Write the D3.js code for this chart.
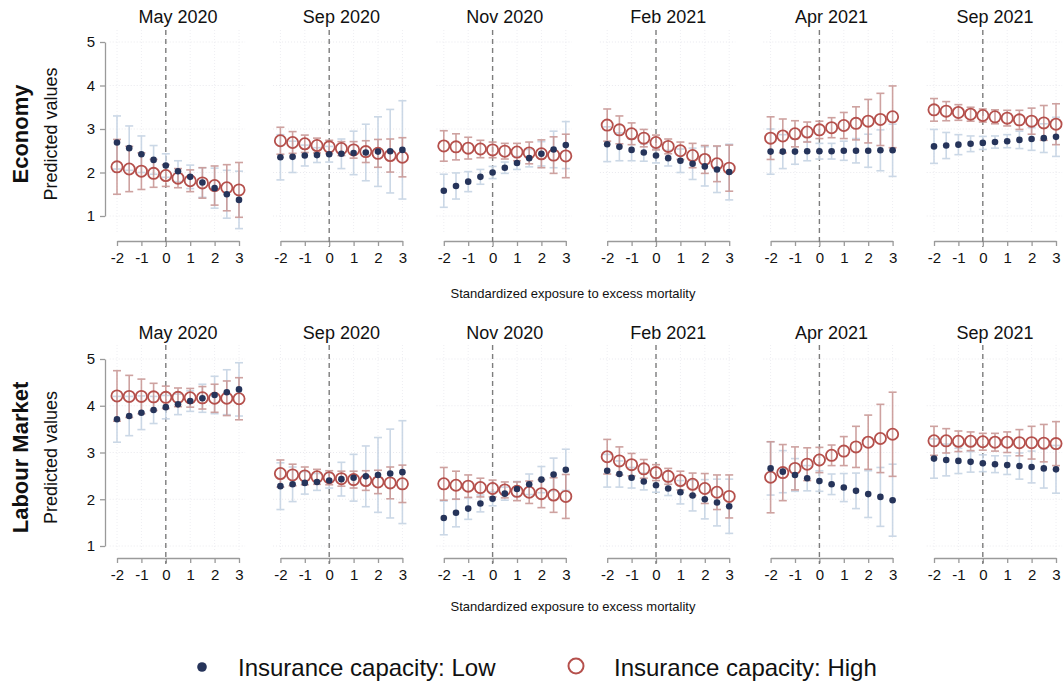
<!DOCTYPE html>
<html>
<head>
<meta charset="utf-8">
<script src="https://cdn.jsdelivr.net/npm/d3@7"></script>
<style>
  html, body { margin: 0; padding: 0; background: #fff; }
  svg { display: block; font-family: "Liberation Sans", Arial, Helvetica, sans-serif; }
</style>
</head>
<body>
<svg id="chart" width="1064" height="686"></svg>
<script>
// Exposure grid (standardized excess-mortality exposure)
const exposure = [-2, -1.5, -1, -0.5, 0, 0.5, 1, 1.5, 2, 2.5, 3];
const xTicks = [-2, -1, 0, 1, 2, 3];
const yTicks = [1, 2, 3, 4, 5];
const waves = ["May 2020", "Sep 2020", "Nov 2020", "Feb 2021", "Apr 2021", "Sep 2021"];
const outcomes = ["Economy", "Labour Market"];
const legendLabels = ["Insurance capacity: Low", "Insurance capacity: High"];
const xTitle = "Standardized exposure to excess mortality";
const yTitle = "Predicted values";

// Economy — low insurance capacity: predicted values and CI half-widths, one row per wave
const econLowEst = [
  [2.69, 2.56, 2.42, 2.29, 2.16, 2.03, 1.90, 1.77, 1.64, 1.50, 1.37],
  [2.35, 2.36, 2.39, 2.40, 2.42, 2.43, 2.45, 2.46, 2.48, 2.49, 2.52],
  [1.58, 1.69, 1.79, 1.90, 2.00, 2.11, 2.22, 2.33, 2.43, 2.53, 2.63],
  [2.65, 2.59, 2.52, 2.46, 2.39, 2.33, 2.27, 2.20, 2.14, 2.07, 2.01],
  [2.48, 2.48, 2.48, 2.49, 2.49, 2.49, 2.50, 2.50, 2.50, 2.51, 2.51],
  [2.60, 2.62, 2.64, 2.66, 2.68, 2.70, 2.72, 2.75, 2.77, 2.79, 2.82]
];
const econLowCI = [
  [0.61, 0.51, 0.42, 0.33, 0.27, 0.24, 0.27, 0.34, 0.46, 0.55, 0.66],
  [0.52, 0.36, 0.24, 0.17, 0.18, 0.34, 0.50, 0.65, 0.80, 0.96, 1.13],
  [0.38, 0.30, 0.23, 0.17, 0.14, 0.13, 0.15, 0.20, 0.28, 0.42, 0.54],
  [0.40, 0.32, 0.25, 0.20, 0.17, 0.18, 0.27, 0.36, 0.45, 0.53, 0.64],
  [0.52, 0.39, 0.29, 0.22, 0.18, 0.18, 0.22, 0.28, 0.38, 0.47, 0.60],
  [0.39, 0.30, 0.23, 0.18, 0.15, 0.14, 0.15, 0.20, 0.26, 0.33, 0.45]
];
// Economy — high insurance capacity
const econHighEst = [
  [2.13, 2.08, 2.03, 1.98, 1.93, 1.87, 1.81, 1.76, 1.70, 1.65, 1.60],
  [2.73, 2.69, 2.66, 2.62, 2.59, 2.55, 2.52, 2.48, 2.44, 2.39, 2.35],
  [2.61, 2.59, 2.56, 2.54, 2.52, 2.49, 2.47, 2.45, 2.43, 2.40, 2.38],
  [3.09, 2.98, 2.89, 2.79, 2.69, 2.60, 2.50, 2.39, 2.30, 2.20, 2.10],
  [2.79, 2.84, 2.89, 2.93, 2.98, 3.03, 3.08, 3.13, 3.18, 3.22, 3.28],
  [3.44, 3.41, 3.38, 3.34, 3.31, 3.28, 3.25, 3.21, 3.18, 3.14, 3.11]
];
const econHighCI = [
  [0.63, 0.52, 0.42, 0.32, 0.25, 0.22, 0.25, 0.35, 0.45, 0.53, 0.63],
  [0.31, 0.25, 0.20, 0.17, 0.15, 0.16, 0.19, 0.25, 0.32, 0.38, 0.45],
  [0.35, 0.30, 0.25, 0.20, 0.18, 0.18, 0.20, 0.25, 0.32, 0.42, 0.50],
  [0.37, 0.32, 0.25, 0.20, 0.17, 0.17, 0.20, 0.28, 0.32, 0.41, 0.53],
  [0.49, 0.39, 0.30, 0.23, 0.20, 0.23, 0.30, 0.38, 0.50, 0.60, 0.71],
  [0.26, 0.22, 0.18, 0.16, 0.15, 0.16, 0.18, 0.22, 0.30, 0.40, 0.47]
];
// Labour market — low insurance capacity
const labLowEst = [
  [3.71, 3.78, 3.85, 3.91, 3.97, 4.03, 4.10, 4.16, 4.23, 4.29, 4.35],
  [2.28, 2.32, 2.35, 2.37, 2.40, 2.43, 2.46, 2.49, 2.52, 2.55, 2.58],
  [1.60, 1.71, 1.80, 1.91, 2.01, 2.12, 2.22, 2.32, 2.42, 2.53, 2.63],
  [2.61, 2.54, 2.46, 2.38, 2.30, 2.23, 2.15, 2.08, 2.00, 1.93, 1.85],
  [2.66, 2.59, 2.52, 2.45, 2.39, 2.32, 2.25, 2.18, 2.11, 2.05, 1.98],
  [2.87, 2.84, 2.82, 2.80, 2.77, 2.75, 2.73, 2.71, 2.69, 2.66, 2.64]
];
const labLowCI = [
  [0.49, 0.42, 0.36, 0.29, 0.25, 0.22, 0.22, 0.30, 0.40, 0.48, 0.57],
  [0.50, 0.37, 0.24, 0.18, 0.16, 0.36, 0.50, 0.65, 0.80, 0.95, 1.10],
  [0.36, 0.30, 0.23, 0.18, 0.15, 0.14, 0.16, 0.22, 0.28, 0.35, 0.44],
  [0.35, 0.28, 0.22, 0.18, 0.15, 0.15, 0.25, 0.33, 0.42, 0.50, 0.58],
  [0.57, 0.45, 0.35, 0.27, 0.22, 0.22, 0.30, 0.38, 0.50, 0.63, 0.77],
  [0.42, 0.34, 0.27, 0.22, 0.18, 0.18, 0.20, 0.28, 0.34, 0.42, 0.51]
];
// Labour market — high insurance capacity
const labHighEst = [
  [4.21, 4.20, 4.20, 4.19, 4.18, 4.18, 4.17, 4.17, 4.16, 4.16, 4.15],
  [2.55, 2.52, 2.50, 2.48, 2.46, 2.44, 2.42, 2.40, 2.37, 2.35, 2.33],
  [2.33, 2.30, 2.28, 2.25, 2.23, 2.20, 2.17, 2.15, 2.12, 2.09, 2.06],
  [2.91, 2.82, 2.74, 2.65, 2.57, 2.49, 2.40, 2.32, 2.23, 2.15, 2.06],
  [2.47, 2.57, 2.66, 2.75, 2.84, 2.94, 3.03, 3.12, 3.22, 3.30, 3.39],
  [3.25, 3.25, 3.24, 3.24, 3.23, 3.22, 3.22, 3.21, 3.21, 3.20, 3.19]
];
const labHighCI = [
  [0.54, 0.45, 0.37, 0.29, 0.24, 0.20, 0.20, 0.24, 0.30, 0.37, 0.45],
  [0.29, 0.23, 0.19, 0.16, 0.15, 0.16, 0.18, 0.21, 0.25, 0.34, 0.40],
  [0.35, 0.30, 0.24, 0.20, 0.18, 0.17, 0.20, 0.24, 0.30, 0.37, 0.47],
  [0.37, 0.30, 0.24, 0.20, 0.17, 0.17, 0.20, 0.24, 0.32, 0.37, 0.46],
  [0.76, 0.60, 0.46, 0.35, 0.27, 0.22, 0.31, 0.44, 0.58, 0.73, 0.90],
  [0.31, 0.26, 0.22, 0.20, 0.18, 0.19, 0.22, 0.28, 0.35, 0.40, 0.47]
];

// Colours
const navy = "#26345a";
const rose = "#b5504c";
const ciBlue = "#c6d4e4";
const ciRose = "#c99896";
const axisGrey = "#9a9a9a";

const svg = d3.select("#chart");

// Row geometry (pixels)
const rows = [
  { name: outcomes[0], low: [econLowEst, econLowCI], high: [econHighEst, econHighCI],
    y1: 216, y5: 42, top: 30, bottom: 233, axisY: 241, titleY: 23, xTitleY: 298 },
  { name: outcomes[1], low: [labLowEst, labLowCI], high: [labHighEst, labHighCI],
    y1: 546, y5: 359, top: 345, bottom: 552, axisY: 558, titleY: 339, xTitleY: 611 }
];
const panelX0 = 117, panelStep = 163.4, panelW = 122;

rows.forEach(row => {
  const y = d3.scaleLinear().domain([1, 5]).range([row.y1, row.y5]);
  const midY = (row.y5 + row.y1) / 2 + 5;

  // Row labels
  svg.append("text")
    .attr("transform", `translate(28,${midY}) rotate(-90)`)
    .attr("text-anchor", "middle")
    .attr("font-size", 22).attr("font-weight", "bold").attr("fill", "#111")
    .text(row.name);
  svg.append("text")
    .attr("transform", `translate(57,${midY}) rotate(-90)`)
    .attr("text-anchor", "middle")
    .attr("font-size", 18).attr("fill", "#111")
    .text(yTitle);

  waves.forEach((wave, i) => {
    const x0 = panelX0 + panelStep * i;
    const x = d3.scaleLinear().domain([-2, 3]).range([x0, x0 + panelW]);
    const g = svg.append("g");

    // faint dotted grid
    g.selectAll("line.hgrid").data(yTicks).join("line")
      .attr("x1", x(-2.3)).attr("x2", x(3.25))
      .attr("y1", d => y(d)).attr("y2", d => y(d))
      .attr("stroke", "#e9e9ee").attr("stroke-width", 1).attr("stroke-dasharray", "1,2");
    g.selectAll("line.vgrid").data(xTicks).join("line")
      .attr("x1", d => x(d)).attr("x2", d => x(d))
      .attr("y1", row.top).attr("y2", row.bottom)
      .attr("stroke", "#eeeef2").attr("stroke-width", 1).attr("stroke-dasharray", "1,2");

    // panel title
    g.append("text")
      .attr("x", x(0.5)).attr("y", row.titleY)
      .attr("text-anchor", "middle").attr("font-size", 18).attr("fill", "#111")
      .text(wave);

    // x axis
    const xAxis = d3.axisBottom(x).tickValues(xTicks).tickSize(5).tickSizeOuter(0)
      .tickPadding(6).tickFormat(d => String(d));
    const ax = g.append("g").attr("transform", `translate(0,${row.axisY})`).call(xAxis);
    ax.select(".domain").attr("stroke", axisGrey).attr("stroke-width", 1.3);
    ax.selectAll(".tick line").attr("stroke", axisGrey).attr("stroke-width", 1.3);
    ax.selectAll(".tick text").attr("font-size", 15).attr("fill", "#111")
      .attr("font-family", "Liberation Sans, Arial, sans-serif");

    // y axis on the first column only
    if (i === 0) {
      const yAxis = d3.axisLeft(y).tickValues(yTicks).tickSize(5).tickSizeOuter(0)
        .tickPadding(5).tickFormat(d3.format("d"));
      const ay = svg.append("g").attr("transform", `translate(105,0)`).call(yAxis);
      ay.select(".domain").attr("stroke", axisGrey).attr("stroke-width", 1.3);
      ay.selectAll(".tick line").attr("stroke", axisGrey).attr("stroke-width", 1.3);
      ay.selectAll(".tick text").attr("font-size", 15).attr("fill", "#111")
        .attr("font-family", "Liberation Sans, Arial, sans-serif");
    }

    // reference line at zero exposure
    g.append("line")
      .attr("x1", x(0)).attr("x2", x(0))
      .attr("y1", row.top).attr("y2", row.axisY + 6)
      .attr("stroke", "#7d7d7d").attr("stroke-width", 1.4).attr("stroke-dasharray", "5,4");

    const series = [
      { est: row.low[0][i], ci: row.low[1][i], color: ciBlue },
      { est: row.high[0][i], ci: row.high[1][i], color: ciRose }
    ];

    // confidence intervals with caps
    series.forEach(s => {
      const pts = exposure.map((e, k) => ({ e, v: s.est[k], h: s.ci[k] }));
      const ci = g.append("g").attr("stroke", s.color).attr("stroke-width", 1.6).attr("opacity", 0.9);
      ci.selectAll("line.bar").data(pts).join("line")
        .attr("x1", d => x(d.e)).attr("x2", d => x(d.e))
        .attr("y1", d => y(d.v + d.h)).attr("y2", d => y(d.v - d.h));
      ci.selectAll("line.capT").data(pts).join("line")
        .attr("x1", d => x(d.e) - 4).attr("x2", d => x(d.e) + 4)
        .attr("y1", d => y(d.v + d.h)).attr("y2", d => y(d.v + d.h));
      ci.selectAll("line.capB").data(pts).join("line")
        .attr("x1", d => x(d.e) - 4).attr("x2", d => x(d.e) + 4)
        .attr("y1", d => y(d.v - d.h)).attr("y2", d => y(d.v - d.h));
    });

    // high capacity: hollow circles
    g.selectAll("circle.high").data(exposure).join("circle")
      .attr("cx", d => x(d)).attr("cy", (d, k) => y(row.high[0][i][k]))
      .attr("r", 5.6).attr("fill", "none").attr("stroke", rose).attr("stroke-width", 1.8);

    // low capacity: solid dots
    g.selectAll("circle.low").data(exposure).join("circle")
      .attr("cx", d => x(d)).attr("cy", (d, k) => y(row.low[0][i][k]))
      .attr("r", 3.3).attr("fill", navy);
  });

  // shared x-axis title
  svg.append("text")
    .attr("x", 573).attr("y", row.xTitleY)
    .attr("text-anchor", "middle").attr("font-size", 13).attr("fill", "#111")
    .text(xTitle);
});

// Legend
const legY = 667;
svg.append("circle").attr("cx", 202).attr("cy", legY).attr("r", 4.8).attr("fill", navy);
svg.append("text").attr("x", 238).attr("y", legY + 8.5)
  .attr("font-size", 24).attr("fill", "#111").text(legendLabels[0]);
svg.append("circle").attr("cx", 576).attr("cy", legY - 1).attr("r", 7.5)
  .attr("fill", "none").attr("stroke", rose).attr("stroke-width", 2);
svg.append("text").attr("x", 614).attr("y", legY + 8.5)
  .attr("font-size", 24).attr("fill", "#111").text(legendLabels[1]);
</script>
</body>
</html>
